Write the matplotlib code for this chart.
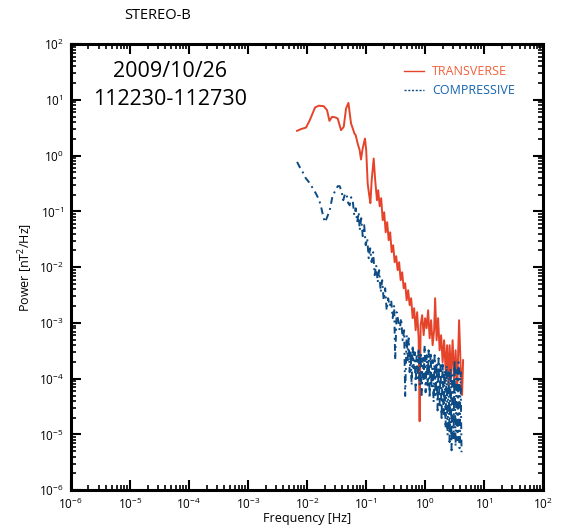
import matplotlib
matplotlib.use("Agg")
import matplotlib.pyplot as plt
from matplotlib.lines import Line2D

plt.rcParams['font.family'] = ['Open Sans', 'DejaVu Sans']
plt.rcParams['mathtext.default'] = 'regular'

# transverse power spectrum
freq_t = [0.00683, 0.00788, 0.00969, 0.0112, 0.01376, 0.0159, 0.0193, 0.0220, 0.0241, 0.0267,
          0.0297, 0.0333, 0.0379, 0.0421, 0.0461, 0.0506, 0.0560, 0.0598, 0.0639, 0.0672,
          0.0726, 0.0785, 0.0826, 0.0883, 0.0965, 0.1012, 0.1072, 0.1137, 0.1191, 0.1253,
          0.1355, 0.1437, 0.1541, 0.1614, 0.1712, 0.1815, 0.1924, 0.2040, 0.2163, 0.2293,
          0.2431, 0.2577, 0.2732, 0.2897, 0.3071, 0.3256, 0.3451, 0.3659, 0.3879, 0.4113,
          0.4361, 0.4624, 0.4901, 0.5196, 0.5510, 0.5841, 0.6193, 0.6565, 0.6961, 0.738,
          0.7824, 0.8134, 0.8456, 0.8967, 0.9506, 1.008, 1.068, 1.133, 1.201, 1.273,
          1.350, 1.431, 1.488, 1.577, 1.672, 1.773, 1.880, 1.993, 2.113, 2.240,
          2.375, 2.518, 2.618, 2.776, 2.943, 3.120, 3.307, 3.507, 3.646, 3.791,
          4.018, 4.260, 4.429]
power_t = [2.79, 2.99, 3.20, 4.33, 7.32, 7.88, 7.73, 6.55, 4.21, 4.97,
           4.90, 4.65, 2.87, 3.29, 7.02, 8.85, 3.78, 3.11, 2.50, 2.33,
           1.65, 1.25, 0.855, 1.36, 2.03, 1.25, 0.317, 0.196, 0.141, 0.363,
           0.89, 0.363, 0.159, 0.240, 0.124, 0.173, 0.0697, 0.0969, 0.0424, 0.0642,
           0.0305, 0.0424, 0.0186, 0.0248, 0.0123, 0.0158, 0.00884, 0.0123, 0.00585, 0.00813,
           0.00420, 0.00516, 0.00256, 0.00387, 0.00208, 0.00278, 0.00122, 0.00184, 7.41e-4, 0.00156,
           5.33e-4, 1.73e-5, 9.11e-4, 0.00138, 6.03e-4, 0.00122, 8.05e-4, 0.00169, 5.33e-4, 0.00112,
           3.99e-4, 7.41e-4, 0.00278, 4.90e-4, 0.00122, 3.24e-4, 6.03e-4, 1.98e-4, 4.90e-4, 1.42e-4,
           3.99e-4, 7.6e-5, 3.99e-4, 1.16e-4, 4.90e-4, 9.4e-5, 3.24e-4, 6.2e-5, 2.64e-4, 0.00112,
           1.75e-4, 5.1e-5, 2.15e-4]

# compressive power spectrum
freq_c = [0.00683, 0.00758, 0.00852, 0.00958, 0.0112, 0.01258, 0.01415, 0.0159, 0.01719, 0.01858,
          0.0201, 0.0217, 0.0244, 0.0274, 0.0308, 0.0333, 0.0360, 0.0390, 0.0413, 0.0446,
          0.0473, 0.0502, 0.0532, 0.0564, 0.0598, 0.0634, 0.0672, 0.0713, 0.0755, 0.0785,
          0.0833, 0.0883, 0.0936, 0.0992, 0.1052, 0.1115, 0.1182, 0.1253, 0.1329, 0.1409,
          0.1494, 0.1583, 0.1679, 0.1780, 0.1887, 0.2001, 0.2121, 0.2248, 0.2384, 0.2527,
          0.2680, 0.2841, 0.3012, 0.3131, 0.3320, 0.3519, 0.3731, 0.3956, 0.4194, 0.4446,
          0.4624,
          0.490, 0.510, 0.530, 0.551, 0.573, 0.595, 0.619, 0.644, 0.669, 0.696,
          0.723, 0.752, 0.782, 0.813, 0.845, 0.879, 0.914, 0.950, 0.988, 1.027,
          1.068, 1.110, 1.154, 1.200, 1.248, 1.297, 1.349, 1.402, 1.458, 1.516,
          1.576, 1.638, 1.703, 1.771, 1.841, 1.914, 1.990, 2.069, 2.151, 2.237,
          2.325, 2.418, 2.514, 2.613, 2.717, 2.825, 2.937, 3.053, 3.175, 3.301,
          3.432, 3.568, 3.709, 3.857, 4.010, 4.169]
power_c = [0.774, 0.622, 0.506, 0.395, 0.321, 0.261, 0.212, 0.166, 0.129, 0.0892,
           0.0642, 0.0757, 0.105, 0.196, 0.240, 0.284, 0.284, 0.221, 0.159, 0.212,
           0.196, 0.141, 0.129, 0.180, 0.159, 0.0856, 0.114, 0.0642, 0.0969, 0.0461,
           0.0757, 0.0360, 0.0567, 0.0248, 0.0331, 0.0145, 0.0219, 0.0123, 0.0186, 0.00719,
           0.0109, 0.00538, 0.00884, 0.00356, 0.00585, 0.00256, 0.00420, 0.00169, 0.00278, 0.00200,
           0.00256, 0.00122, 0.00208, 2.15e-4, 0.00156, 0.00112, 7.41e-4, 0.00122, 4.90e-4, 7.41e-4,
           4.9e-5,
           6.0e-4, 2.15e-4, 5.3e-4, 1.31e-4, 3.24e-4, 7.6e-5, 3.99e-4, 1.54e-4, 2.99e-4, 6.2e-5,
           2.64e-4, 1.02e-4, 3.52e-4, 7.6e-5, 2.99e-4, 5.1e-5, 2.33e-4, 9.4e-5, 3.99e-4, 5.7e-5,
           2.64e-4, 7.6e-5, 3.24e-4, 4.5e-5, 2.99e-4, 6.75e-5, 2.15e-4, 3.79e-5, 2.64e-4, 5.1e-5,
           1.98e-4, 2.7e-5, 2.33e-4, 3.35e-5, 1.75e-4, 1.8e-5, 1.98e-4, 2.21e-5, 1.42e-4, 1.29e-5,
           1.75e-4, 9.7e-6, 1.31e-4, 7.3e-6, 1.54e-4, 5.2e-6, 1.16e-4, 8.6e-6, 2.15e-4, 6.15e-6,
           1.42e-4, 7.9e-6, 1.98e-4, 5.67e-6, 1.31e-4, 4.8e-6]

red = '#e5432a'
blue = '#0d4b85'

fig = plt.figure(figsize=(5.68, 5.26), dpi=100)
ax = fig.add_axes([0.1245, 0.068, 0.8315, 0.848])

ax.plot(freq_t, power_t, color=red, lw=1.4)
ax.plot(freq_c, power_c, color=blue, lw=1.4, linestyle=(0, (3.5, 2.2, 1, 2.2)))

ax.set_xscale('log')
ax.set_yscale('log')
ax.set_xlim(1e-6, 1e2)
ax.set_ylim(1e-6, 1e2)

for s in ax.spines.values():
    s.set_linewidth(2.2)
ax.tick_params(which='both', direction='in', top=True, right=True, labelsize=8.5, pad=5)
ax.tick_params(which='major', length=7, width=1.5)
ax.tick_params(which='minor', length=3.5, width=1.2)
ax.xaxis.set_major_locator(matplotlib.ticker.LogLocator(base=10, numticks=20))
ax.yaxis.set_major_locator(matplotlib.ticker.LogLocator(base=10, numticks=20))
ax.xaxis.set_minor_locator(matplotlib.ticker.LogLocator(base=10, subs=range(2, 10), numticks=20))
ax.yaxis.set_minor_locator(matplotlib.ticker.LogLocator(base=10, subs=range(2, 10), numticks=20))
ax.xaxis.set_minor_formatter(matplotlib.ticker.NullFormatter())
ax.yaxis.set_minor_formatter(matplotlib.ticker.NullFormatter())

ax.set_xlabel('Frequency [Hz]', fontsize=9, labelpad=0)
ax.set_ylabel('Power [nT$^2$/Hz]', fontsize=9, labelpad=3)

ax.text(0.21, 0.939, '2009/10/26', transform=ax.transAxes, fontsize=15.5, ha='center', va='center')
ax.text(0.21, 0.877, '112230-112730', transform=ax.transAxes, fontsize=15.5, ha='center', va='center')
fig.text(0.277, 0.97, 'STEREO-B', fontsize=10.5, ha='center', va='center')

handles = [Line2D([], [], color=red, lw=1.0),
           Line2D([], [], color=blue, lw=1.0, linestyle=(0, (1.5, 1.2)))]
leg = ax.legend(handles, ['TRANSVERSE', 'COMPRESSIVE'], loc='upper left',
                bbox_to_anchor=(0.706, 0.953), frameon=False, fontsize=9,
                handlelength=1.6, handletextpad=0.65, borderpad=0, borderaxespad=0,
                labelspacing=0.5)
for t, c in zip(leg.get_texts(), ['#f0603a', '#1463ad']):
    t.set_color(c)

fig.savefig('out.png', dpi=100)
